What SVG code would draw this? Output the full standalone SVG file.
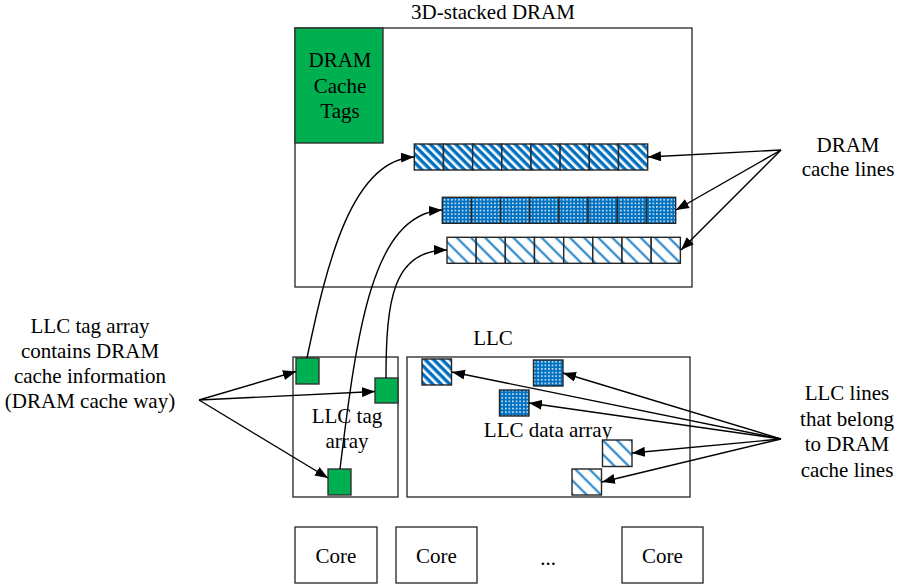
<svg xmlns="http://www.w3.org/2000/svg" width="898" height="586" viewBox="0 0 898 586">
<defs>
<style>
text{font-family:'Liberation Serif','Times New Roman','DejaVu Serif',serif;font-size:21px;fill:#000;text-anchor:middle}
.box{fill:#fff;stroke:#333;stroke-width:1.4}
.green{fill:#00B050;stroke:#333;stroke-width:1.4}
.cell{stroke:#262626;stroke-width:1.4}
.pa{fill:url(#patA)}
.pb{fill:url(#patB)}
.pc{fill:url(#patC)}
.arr{fill:none;stroke:#000;stroke-width:1.4;marker-end:url(#ah)}
</style>
<marker id="ah" viewBox="0 0 13 10" refX="13" refY="5" markerWidth="13" markerHeight="10" markerUnits="userSpaceOnUse" orient="auto">
<path d="M0,0 L13,5 L0,10 z" fill="#000"/>
</marker>
<pattern id="patA" patternUnits="userSpaceOnUse" width="6" height="6" patternTransform="rotate(-45)">
<rect width="6" height="6" fill="#0070C0"/>
<rect x="0" width="2.6" height="6" fill="#fff"/>
</pattern>
<pattern id="patB" patternUnits="userSpaceOnUse" width="3.6" height="3.6">
<rect width="3.6" height="3.6" fill="#0070C0"/>
<rect x="1" y="1" width="1.5" height="1.5" fill="#fff"/>
</pattern>
<pattern id="patC" patternUnits="userSpaceOnUse" width="10" height="10" patternTransform="rotate(-45)">
<rect width="10" height="10" fill="#fff"/>
<rect x="3.5" width="3" height="10" fill="#BDD7EE"/>
<rect x="4.3" width="1.4" height="10" fill="#0070C0"/>
</pattern>
</defs>

<g id="dram">
<text x="493" y="19">3D-stacked DRAM</text>
<rect class="box" x="295" y="28" width="397" height="259"/>
</g>
<g id="dram-tags">
<rect class="green" x="295" y="28" width="88" height="115"/>
<text x="340" y="67">DRAM</text>
<text x="340" y="93">Cache</text>
<text x="340" y="118">Tags</text>
</g>

<g id="dram-row1">
<rect class="cell pa" x="414.3" y="144" width="29.17" height="26"/>
<rect class="cell pa" x="443.5" y="144" width="29.17" height="26"/>
<rect class="cell pa" x="472.6" y="144" width="29.17" height="26"/>
<rect class="cell pa" x="501.8" y="144" width="29.17" height="26"/>
<rect class="cell pa" x="531.0" y="144" width="29.17" height="26"/>
<rect class="cell pa" x="560.1" y="144" width="29.17" height="26"/>
<rect class="cell pa" x="589.3" y="144" width="29.17" height="26"/>
<rect class="cell pa" x="618.5" y="144" width="29.17" height="26"/>
</g>
<g id="dram-row2">
<rect class="cell pb" x="442.3" y="197.3" width="29.17" height="26"/>
<rect class="cell pb" x="471.5" y="197.3" width="29.17" height="26"/>
<rect class="cell pb" x="500.6" y="197.3" width="29.17" height="26"/>
<rect class="cell pb" x="529.8" y="197.3" width="29.17" height="26"/>
<rect class="cell pb" x="559.0" y="197.3" width="29.17" height="26"/>
<rect class="cell pb" x="588.1" y="197.3" width="29.17" height="26"/>
<rect class="cell pb" x="617.3" y="197.3" width="29.17" height="26"/>
<rect class="cell pb" x="646.5" y="197.3" width="29.17" height="26"/>
</g>
<g id="dram-row3">
<rect class="cell pc" x="447" y="237.3" width="29.17" height="26"/>
<rect class="cell pc" x="476.2" y="237.3" width="29.17" height="26"/>
<rect class="cell pc" x="505.3" y="237.3" width="29.17" height="26"/>
<rect class="cell pc" x="534.5" y="237.3" width="29.17" height="26"/>
<rect class="cell pc" x="563.7" y="237.3" width="29.17" height="26"/>
<rect class="cell pc" x="592.8" y="237.3" width="29.17" height="26"/>
<rect class="cell pc" x="622.0" y="237.3" width="29.17" height="26"/>
<rect class="cell pc" x="651.2" y="237.3" width="29.17" height="26"/>
</g>

<g id="dram-lines-label">
<text x="848" y="152">DRAM</text>
<text x="848" y="176">cache lines</text>
</g>

<g id="llc-tag">
<rect class="box" x="293" y="357" width="105" height="140"/>
<text x="347" y="423">LLC tag</text>
<text x="347" y="448">array</text>
</g>
<g id="tag1"><rect class="green" x="296" y="358" width="23" height="26"/></g>
<g id="tag2"><rect class="green" x="375" y="378" width="23" height="25"/></g>
<g id="tag3"><rect class="green" x="328" y="469" width="23" height="26"/></g>

<g id="llc-data">
<text x="493" y="345">LLC</text>
<rect class="box" x="407" y="357" width="283" height="140"/>
<text x="548" y="437">LLC data array</text>
</g>
<g id="llc-line1"><rect class="cell pa" x="422" y="359" width="29.5" height="26"/></g>
<g id="llc-line2"><rect class="cell pb" x="533.5" y="360" width="29.5" height="26"/></g>
<g id="llc-line3"><rect class="cell pb" x="499.5" y="390" width="29.5" height="26"/></g>
<g id="llc-line4"><rect class="cell pc" x="602.5" y="440" width="29.5" height="26.5"/></g>
<g id="llc-line5"><rect class="cell pc" x="572" y="469" width="29.5" height="26"/></g>

<g id="left-label">
<text x="90" y="333">LLC tag array</text>
<text x="90" y="358">contains DRAM</text>
<text x="90" y="383">cache information</text>
<text x="90" y="408">(DRAM cache way)</text>
</g>

<g id="right-label">
<text x="847" y="400">LLC lines</text>
<text x="847" y="426">that belong</text>
<text x="847" y="451">to DRAM</text>
<text x="847" y="477">cache lines</text>
</g>

<g id="cores">
<g id="core1"><rect class="box" x="295" y="527" width="82" height="56"/><text x="336" y="563">Core</text></g>
<g id="core2"><rect class="box" x="396" y="527" width="81" height="56"/><text x="436.5" y="563">Core</text></g>
<g id="ellipsis"><text x="548" y="565">...</text></g>
<g id="core3"><rect class="box" x="622" y="527" width="81" height="56"/><text x="662.5" y="563">Core</text></g>
</g>

<g id="connectors">
<path class="arr" d="M781,150 L648,157"/>
<path class="arr" d="M781,150 L676,210"/>
<path class="arr" d="M781,150 L681,250"/>
<path class="arr" d="M781,439 L452,372"/>
<path class="arr" d="M781,439 L563,373"/>
<path class="arr" d="M781,439 L529,403"/>
<path class="arr" d="M781,439 L632,453"/>
<path class="arr" d="M781,439 L602,482"/>
<path class="arr" d="M199,400 L296,371.5"/>
<path class="arr" d="M199,400 L375,391.5"/>
<path class="arr" d="M199,400 L328,478"/>
<path class="arr" d="M307,358 C327,262 352,160 414,157"/>
<path class="arr" d="M340,469 C357,330 372,215 442,210"/>
<path class="arr" d="M386,378 C386,300 393,250 447,250"/>
</g>
</svg>
